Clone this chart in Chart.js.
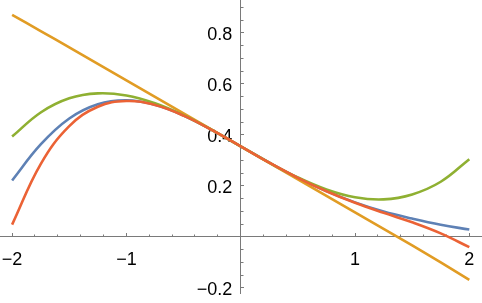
<!DOCTYPE html>
<html>
<head>
<meta charset="utf-8">
<script src="https://cdn.jsdelivr.net/npm/chart.js@4/dist/chart.umd.min.js"></script>
<style>
html,body{margin:0;padding:0;background:#fff;}
canvas{display:block;}
</style>
</head>
<body>
<canvas id="c" width="482" height="303"></canvas>
<script>
const xValues = [-2, -1.75, -1.5, -1.25, -1, -0.75, -0.5, -0.25, 0, 0.25, 0.5, 0.75, 1, 1.25, 1.5, 1.75, 2];
const curveBlue   = [0.2214, 0.3625, 0.4642, 0.5200, 0.5356, 0.5178, 0.4757, 0.4187, 0.3550, 0.2912, 0.2317, 0.1793, 0.1353, 0.0996, 0.0718, 0.0476, 0.0289];
const curveOrange = [0.8707, 0.8070, 0.7432, 0.6786, 0.6138, 0.5491, 0.4844, 0.4197, 0.3550, 0.2903, 0.2256, 0.1609, 0.0962, 0.0315, -0.0332, -0.0999, -0.1686];
const curveGreen  = [0.3933, 0.4879, 0.5435, 0.5630, 0.5546, 0.5241, 0.4770, 0.4188, 0.3550, 0.2912, 0.2330, 0.1859, 0.1554, 0.1471, 0.1665, 0.2162, 0.3048];
const curveRed    = [0.0482, 0.2856, 0.4343, 0.5103, 0.5330, 0.5173, 0.4757, 0.4187, 0.3550, 0.2911, 0.2317, 0.1791, 0.1338, 0.0944, 0.0573, 0.0139, -0.0403];

const xMajorTicks = [-2, -1, 1, 2];
const xTickLabels = ['\u22122', '\u22121', '1', '2'];
const yMajorTicks = [-0.2, 0.2, 0.4, 0.6, 0.8];
const yTickLabels = ['\u22120.2', '0.2', '0.4', '0.6', '0.8'];
const xMinorTicks = [-1.8, -1.6, -1.4, -1.2, -0.8, -0.6, -0.4, -0.2, 0.2, 0.4, 0.6, 0.8, 1.2, 1.4, 1.6, 1.8];
const yMinorTicks = [-0.15, -0.1, -0.05, 0.05, 0.1, 0.15, 0.25, 0.3, 0.35, 0.45, 0.5, 0.55, 0.65, 0.7, 0.75, 0.85, 0.9];

const X_MIN = -2.106, X_MAX = 2.111, Y_MIN = -0.22, Y_MAX = 0.929;
const AXIS_COLOR = '#7a7a7a';

function pts(ys) { return xValues.map((x, i) => ({x: x, y: ys[i]})); }
function setTicks(list) { return function (scale) { scale.ticks = list.map(v => ({value: v})); }; }
function noPad(scale) { scale.paddingTop = 0; scale.paddingBottom = 0; scale.paddingLeft = 0; scale.paddingRight = 0; }
function labelFrom(values, labels) {
  return function (v) {
    const i = values.findIndex(t => Math.abs(t - v) < 1e-9);
    return i >= 0 ? labels[i] : '';
  };
}

const font = {family: '"Liberation Sans", Arial, Helvetica, sans-serif', size: 18};

const ds = (label, ys, color) => ({
  label: label, data: pts(ys), borderColor: color, backgroundColor: color,
  borderWidth: 2.6, pointRadius: 0, fill: false, tension: 0.4,
  xAxisID: 'x', yAxisID: 'y'
});

new Chart(document.getElementById('c'), {
  type: 'line',
  data: {
    datasets: [
      ds('order 5', curveRed, '#EB6235'),
      ds('order 3', curveGreen, '#8FB032'),
      ds('order 1', curveOrange, '#E19C24'),
      ds('Ai(x)', curveBlue, '#5E81B5')
    ]
  },
  options: {
    responsive: false,
    animation: false,
    devicePixelRatio: 1,
    layout: {padding: {left: 0, right: 0, top: 0, bottom: 10}},
    plugins: {legend: {display: false}, tooltip: {enabled: false}},
    scales: {
      x: {
        type: 'linear', min: X_MIN, max: X_MAX, position: {y: 0},
        afterBuildTicks: setTicks(xMajorTicks), afterFit: noPad,
        border: {display: true, color: AXIS_COLOR, width: 1},
        grid: {drawOnChartArea: false, drawTicks: true, tickLength: -4, color: AXIS_COLOR, tickColor: AXIS_COLOR},
        ticks: {autoSkip: false, maxRotation: 0, padding: 16, color: '#000', font: font,
                callback: labelFrom(xMajorTicks, xTickLabels)}
      },
      x2: {
        type: 'linear', min: X_MIN, max: X_MAX, position: {y: 0},
        afterBuildTicks: setTicks(xMinorTicks), afterFit: noPad,
        border: {display: false},
        grid: {drawOnChartArea: false, drawTicks: true, tickLength: -2.5, color: AXIS_COLOR, tickColor: AXIS_COLOR},
        ticks: {display: false}
      },
      y: {
        type: 'linear', min: Y_MIN, max: Y_MAX, position: {x: 0},
        afterBuildTicks: setTicks(yMajorTicks), afterFit: noPad,
        border: {display: true, color: AXIS_COLOR, width: 1},
        grid: {drawOnChartArea: false, drawTicks: true, tickLength: -4, color: AXIS_COLOR, tickColor: AXIS_COLOR},
        ticks: {display: false}
      },
      y2: {
        type: 'linear', min: Y_MIN, max: Y_MAX, position: {x: 0},
        afterBuildTicks: setTicks(yMinorTicks), afterFit: noPad,
        border: {display: false},
        grid: {drawOnChartArea: false, drawTicks: true, tickLength: -2.5, color: AXIS_COLOR, tickColor: AXIS_COLOR},
        ticks: {display: false}
      },
      yLab: {
        type: 'linear', min: Y_MIN, max: Y_MAX, position: {x: -0.074},
        afterBuildTicks: setTicks(yMajorTicks), afterFit: noPad,
        border: {display: false},
        grid: {display: false, drawTicks: false},
        ticks: {autoSkip: false, padding: 0, labelOffset: 2, color: '#000', font: font,
                callback: labelFrom(yMajorTicks, yTickLabels)}
      }
    }
  }
});
</script>
</body>
</html>
